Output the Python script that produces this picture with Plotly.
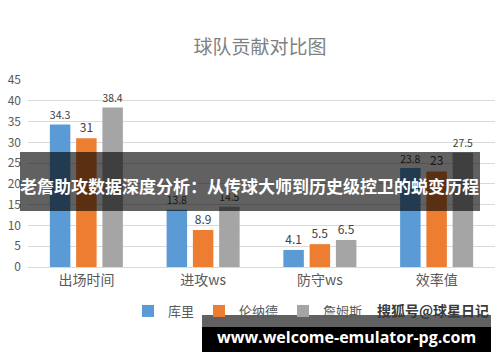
import plotly.graph_objects as go

categories = ["出场时间", "进攻ws", "防守ws", "效率值"]
curry = [34.3, 13.8, 4.1, 23.8]
leonard = [31, 8.9, 5.5, 23]
james = [38.4, 14.5, 6.5, 27.5]
series_names = ["库里", "伦纳德", "詹姆斯"]
colors = ["#5B9BD5", "#ED7D31", "#A5A5A5"]
y_ticks = [0, 5, 10, 15, 20, 25, 30, 35, 40, 45]

title_text = "球队贡献对比图"
banner_text = "老詹助攻数据深度分析：从传球大师到历史级控卫的蜕变历程"
source_text = "搜狐号@球星日记"
url_text = "www.welcome-emulator-pg.com"

CJK = "Noto Sans CJK SC"

# plot area in pixels (for mapping overlay positions)
L, R, T, B = 28, 495, 80, 267
PW, PH = R - L, B - T


def px(x):
    return (x - L) / PW


def py(y):
    return (B - y) / PH


fig = go.Figure()
for name, vals, col in zip(series_names, [curry, leonard, james], colors):
    fig.add_trace(go.Bar(
        x=categories, y=vals, name=name, marker=dict(color=col, line=dict(width=0)),
        text=[f"{v:g}" for v in vals], textposition="outside",
        textfont=dict(size=12, color="#404040", family=CJK),
        cliponaxis=False,
    ))

fig.update_layout(
    width=500, height=362,
    margin=dict(l=L, r=500 - R, t=T, b=362 - B, autoexpand=False),
    paper_bgcolor="white", plot_bgcolor="white",
    barmode="group", bargap=0.325, bargroupgap=0.22,
    title=dict(text=title_text, x=260 / 500, xanchor="center", y=1 - 47 / 362, yanchor="middle",
               font=dict(family=CJK, size=19, color="#808080")),
    font=dict(family=CJK, color="#595959"),
    showlegend=True,
    legend=dict(orientation="h", x=px(248), xanchor="center", y=py(311), yanchor="middle",
                font=dict(size=13, color="#595959", family=CJK), itemwidth=30,
                bgcolor="rgba(0,0,0,0)", tracegroupgap=0),
    xaxis=dict(showgrid=False, showline=True, linecolor="#D9D9D9", linewidth=1,
               tickfont=dict(size=14, color="#595959", family=CJK), ticks=""),
    yaxis=dict(range=[0, 45], tickvals=y_ticks, showgrid=True, gridcolor="#D9D9D9",
               zeroline=False, showline=False, tickfont=dict(size=12, color="#595959", family=CJK),
               ticklabelstandoff=6),
)

# overlay banner
fig.add_shape(type="rect", xref="paper", yref="paper", layer="above",
              x0=px(20), x1=px(480), y0=py(211), y1=py(152),
              fillcolor="rgba(0,0,0,0.62)", line=dict(width=0))
fig.add_annotation(text=f"<b>{banner_text}</b>", xref="paper", yref="paper",
                   x=px(249), y=py(185), xanchor="center", yanchor="middle", showarrow=False,
                   font=dict(family=CJK, size=17, color="white"))

# source watermark
fig.add_annotation(text=f"<b>{source_text}</b>", xref="paper", yref="paper",
                   x=px(433), y=py(310), xanchor="center", yanchor="middle", showarrow=False,
                   font=dict(family=CJK, size=14, color="#3a3a3a"))

# bottom url box
fig.add_shape(type="rect", xref="paper", yref="paper", layer="above",
              x0=px(202), x1=px(491), y0=py(327), y1=py(315),
              fillcolor="rgba(0,0,0,0.62)", line=dict(width=0))
fig.add_shape(type="rect", xref="paper", yref="paper", layer="above",
              x0=px(202), x1=px(491), y0=py(352), y1=py(327),
              fillcolor="black", line=dict(width=0))
fig.add_annotation(text=f"<b>{url_text}</b>", xref="paper", yref="paper",
                   x=px(346), y=py(337), xanchor="center", yanchor="middle", showarrow=False,
                   font=dict(family="Open Sans", size=16, color="white"))

fig.write_html("out.html", config={"displayModeBar": False},
               post_script="document.body.style.margin='0';")
